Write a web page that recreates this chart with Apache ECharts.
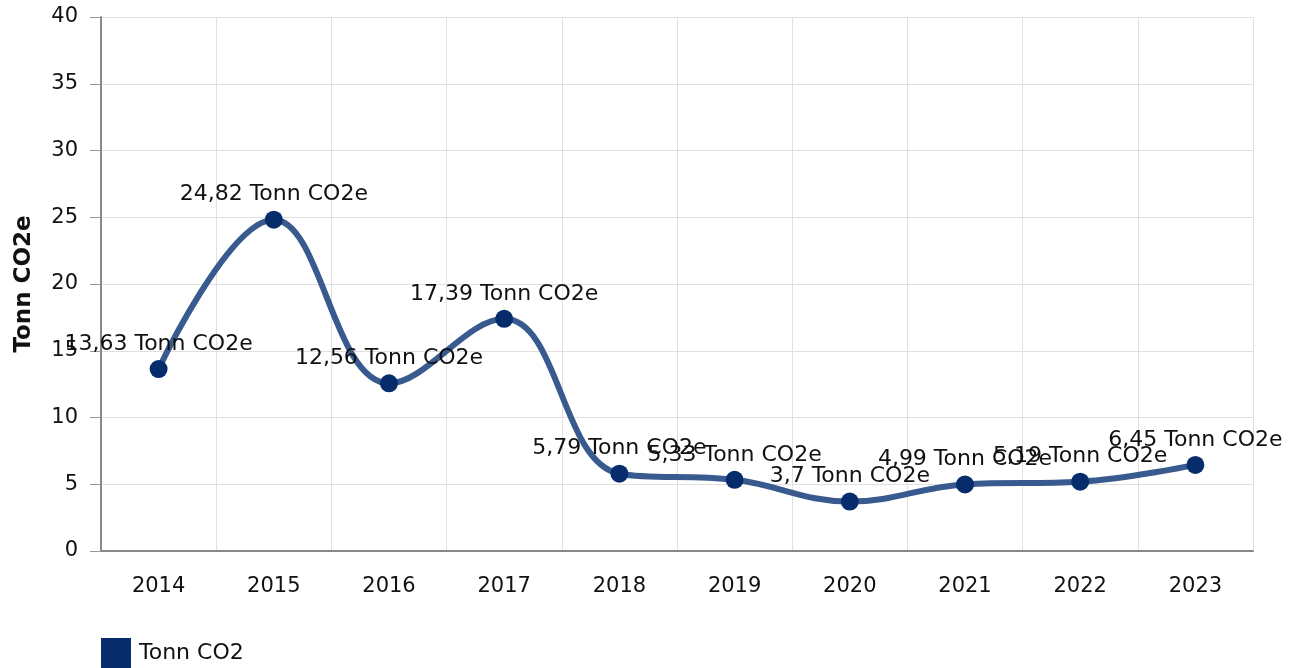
<!DOCTYPE html>
<html>
<head>
<meta charset="utf-8">
<script src="https://cdn.jsdelivr.net/npm/echarts@6/dist/echarts.min.js"></script>
<style>
  html, body { margin: 0; padding: 0; background: #fff; }
  #chart { width: 1299px; height: 668px; }
</style>
</head>
<body>
<div id="chart"></div>
<script>
const years = ['2014', '2015', '2016', '2017', '2018', '2019', '2020', '2021', '2022', '2023'];
const emissions = [13.63, 24.82, 12.56, 17.39, 5.79, 5.33, 3.7, 4.99, 5.19, 6.45];
const yTicks = { min: 0, max: 40, step: 5 };
const unit = 'Tonn CO2e';

const chart = echarts.init(document.getElementById('chart'));
const font = 'DejaVu Sans, Verdana, sans-serif';

chart.setOption({
  animation: false,
  textStyle: { fontFamily: font },
  grid: { left: 101, right: 46, top: 17, bottom: 117, outerBoundsMode: 'none' },
  legend: {
    left: 101,
    top: 638,
    padding: 0,
    itemWidth: 30,
    itemHeight: 30,
    itemGap: 9,
    icon: 'rect',
    textStyle: { fontSize: 22, color: '#111', fontFamily: font, padding: [8, 0, 0, 3] },
    data: [{ name: 'Tonn CO2', itemStyle: { color: '#062c6b' } }]
  },
  xAxis: {
    type: 'category',
    data: years,
    boundaryGap: true,
    axisLine: { lineStyle: { color: '#888', width: 2 } },
    axisTick: { alignWithLabel: true, length: 9, lineStyle: { color: '#999' } },
    axisLabel: { fontSize: 21, color: '#111', margin: 25 },
    splitLine: { show: true, lineStyle: { color: '#e0e0e0' } }
  },
  yAxis: {
    type: 'value',
    min: yTicks.min,
    max: yTicks.max,
    interval: yTicks.step,
    name: unit,
    nameLocation: 'middle',
    nameGap: 65,
    nameTextStyle: { fontSize: 23, fontWeight: 'bold', color: '#111' },
    axisLine: { show: true, lineStyle: { color: '#888', width: 2 } },
    axisTick: { show: true, length: 11, lineStyle: { color: '#999' } },
    axisLabel: { fontSize: 21, color: '#111', margin: 23 },
    splitLine: { lineStyle: { color: '#e0e0e0' } }
  },
  series: [{
    name: 'Tonn CO2',
    type: 'line',
    data: emissions,
    smooth: 0.4,
    symbol: 'circle',
    symbolSize: 18,
    lineStyle: { color: '#385a8e', width: 6 },
    itemStyle: { color: '#062c6b' },
    label: {
      show: true,
      position: 'top',
      distance: 5,
      fontSize: 22,
      color: '#111',
      formatter: p => String(p.value).replace('.', ',') + ' ' + unit
    }
  }]
});
</script>
</body>
</html>
